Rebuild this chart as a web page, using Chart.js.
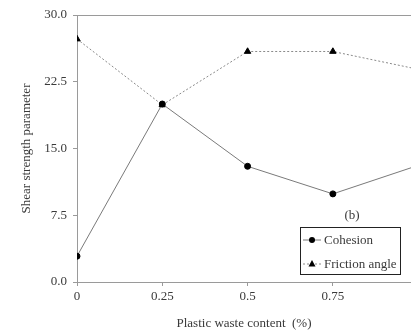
<!DOCTYPE html>
<html>
<head>
<meta charset="utf-8">
<script src="https://cdn.jsdelivr.net/npm/chart.js@4/dist/chart.umd.min.js"></script>
<style>
  html, body { margin:0; padding:0; background:#fff; overflow:hidden; }
  #wrap { width:411px; height:331px; }
</style>
</head>
<body>
<div id="wrap"><canvas id="chart" width="411" height="331"></canvas></div>
<script>
// data
const plasticContent = [0, 0.25, 0.5, 0.75, 1.0];
const cohesion       = [2.9, 20.0, 13.0, 9.9, 13.1];
const frictionAngle  = [27.3, 19.9, 25.9, 25.9, 23.9];
const xTicks         = [0, 0.25, 0.5, 0.75];
const yTicks         = [0, 7.5, 15, 22.5, 30];

const FONT = "'Liberation Serif', 'Times New Roman', serif";
const TEXT = '#3a3a3a';
const AXIS = '#9a9a9a';

const toXY = (ys) => plasticContent.map((x, i) => ({ x, y: ys[i] }));

// frame line on top + legend box + panel label
const extras = {
    id: 'extras',
    afterDraw(chart) {
        const { ctx, chartArea: ca } = chart;
        ctx.save();
        ctx.strokeStyle = AXIS;
        ctx.lineWidth = 1;
        ctx.beginPath();
        ctx.moveTo(ca.left, ca.top + 0.5);
        ctx.lineTo(ca.right, ca.top + 0.5);
        ctx.stroke();

        ctx.font = `13px ${FONT}`;
        ctx.fillStyle = TEXT;
        ctx.textBaseline = 'middle';
        ctx.textAlign = 'center';
        ctx.fillText('(b)', ca.left + 275, ca.top + 201);

        const bx = ca.left + 223, by = ca.top + 212, bw = 100, bh = 47;
        ctx.strokeStyle = '#222';
        ctx.lineWidth = 1;
        ctx.strokeRect(bx + 0.5, by + 0.5, bw, bh);

        const rows = chart.data.datasets.map((ds, i) => ({ ds, y: by + 13 + i * 24 }));
        rows.forEach(({ ds, y }) => {
            ctx.strokeStyle = ds.borderColor;
            ctx.setLineDash(ds.borderDash || []);
            ctx.beginPath();
            ctx.moveTo(bx + 3, y);
            ctx.lineTo(bx + 21, y);
            ctx.stroke();
            ctx.setLineDash([]);
            ctx.fillStyle = '#000';
            ctx.beginPath();
            if (ds.pointStyle === 'triangle') {
                ctx.moveTo(bx + 12, y - 4);
                ctx.lineTo(bx + 15.5, y + 2.5);
                ctx.lineTo(bx + 8.5, y + 2.5);
                ctx.closePath();
            } else {
                ctx.arc(bx + 12, y, 3, 0, Math.PI * 2);
            }
            ctx.fill();
            ctx.fillStyle = TEXT;
            ctx.textAlign = 'left';
            ctx.fillText(ds.label, bx + 24, y + 1);
        });
        ctx.restore();
    }
};

new Chart(document.getElementById('chart'), {
    type: 'line',
    data: {
        datasets: [
            {
                label: 'Cohesion',
                data: toXY(cohesion),
                borderColor: '#7a7a7a',
                borderWidth: 1,
                pointStyle: 'circle',
                pointRadius: 3,
                pointBackgroundColor: '#000',
                pointBorderColor: '#000',
                tension: 0
            },
            {
                label: 'Friction angle',
                data: toXY(frictionAngle),
                borderColor: '#8a8a8a',
                borderWidth: 1,
                borderDash: [2, 2],
                pointStyle: 'triangle',
                pointRadius: 3.7,
                pointBackgroundColor: '#000',
                pointBorderColor: '#000',
                tension: 0
            }
        ]
    },
    options: {
        responsive: false,
        animation: false,
        layout: { autoPadding: false, padding: { left: 15, top: 15, right: 0, bottom: 0 } },
        plugins: { legend: { display: false }, tooltip: { enabled: false } },
        scales: {
            x: {
                type: 'linear',
                min: 0,
                max: 0.979,
                afterBuildTicks: (s) => { s.ticks = xTicks.map(v => ({ value: v })); },
                afterFit: (s) => { s.height = 49; s.paddingRight = 0; s.paddingLeft = 0; },
                ticks: {
                    color: TEXT,
                    font: { family: FONT, size: 13 },
                    padding: 3,
                    maxRotation: 0,
                    callback: (v) => String(v)
                },
                grid: { drawOnChartArea: false, drawTicks: true, tickLength: 4, color: AXIS },
                border: { display: true, color: AXIS },
                title: {
                    display: true,
                    text: 'Plastic waste content  (%)',
                    color: TEXT,
                    font: { family: FONT, size: 13 },
                    padding: { top: 4, bottom: 0 }
                }
            },
            y: {
                min: 0,
                max: 30,
                afterBuildTicks: (s) => { s.ticks = yTicks.map(v => ({ value: v })); },
                afterFit: (s) => { s.width = 62; },
                ticks: {
                    color: TEXT,
                    font: { family: FONT, size: 13 },
                    padding: 6,
                    callback: (v) => v.toFixed(1)
                },
                grid: { drawOnChartArea: false, drawTicks: true, tickLength: 4, color: AXIS },
                border: { display: true, color: AXIS },
                title: {
                    display: true,
                    text: 'Shear strength parameter',
                    color: TEXT,
                    font: { family: FONT, size: 13 },
                    padding: { top: 4, bottom: 4 }
                }
            }
        }
    },
    plugins: [extras]
});
</script>
</body>
</html>
